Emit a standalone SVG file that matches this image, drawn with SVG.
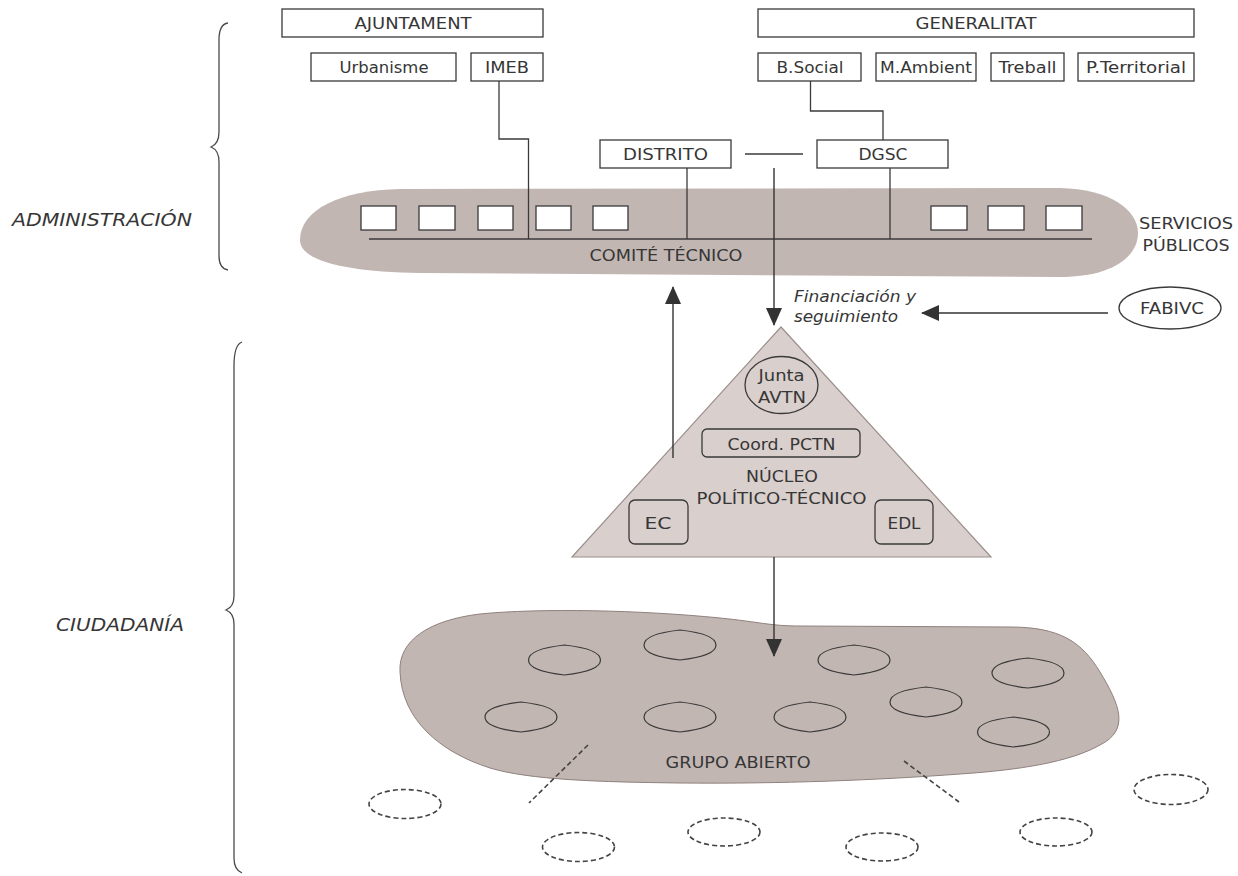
<svg xmlns="http://www.w3.org/2000/svg" width="1238" height="876" viewBox="0 0 1238 876">
  <style>
    .t { font-family: "DejaVu Sans", "Liberation Sans", sans-serif; font-size: 16px; fill: #363636; }
    .it { font-family: "DejaVu Sans", "Liberation Sans", sans-serif; font-style: italic; fill: #363636; }
    .box { fill: #ffffff; stroke: #3a3a3a; stroke-width: 1.3; }
    .ln { fill: none; stroke: #3a3a3a; stroke-width: 1.3; }
    .arr { fill: none; stroke: #333333; stroke-width: 1.4; }
    .inner { fill: #d9cfcc; stroke: #3a3a3a; stroke-width: 1.3; }
    .cell { fill: none; stroke: #3a3a3a; stroke-width: 1.2; }
    .dash { fill: none; stroke: #444444; stroke-width: 1.6; stroke-dasharray: 5 3; }
    .brace { fill: none; stroke: #4a4a4a; stroke-width: 1.3; }
  </style>
  <defs>
    <marker id="head" markerUnits="userSpaceOnUse" markerWidth="18" markerHeight="16" refX="17" refY="8" orient="auto">
      <path d="M0,0 L18,8 L0,16 Z" fill="#333333"/>
    </marker>
    <!-- small member group: slightly pointed oval -->
    <path id="cellShape" d="M-36,0 C-36,-9 -18,-13 0,-15 C18,-13 36,-9 36,0 C36,9 18,13 0,15 C-18,13 -36,9 -36,0 Z"/>
  </defs>

  <rect width="1238" height="876" fill="#ffffff"/>

  <!-- side braces and section labels -->
  <g id="section-administracion">
    <path class="brace" d="M228,23 C221,24 219,30 219,40 L219,132 C219,140 216,145 211,147 C216,149 219,154 219,162 L219,256 C219,265 222,269 228,270"/>
    <text class="it" x="12" y="226" font-size="18" textLength="180" lengthAdjust="spacingAndGlyphs">ADMINISTRACIÓN</text>
  </g>
  <g id="section-ciudadania">
    <path class="brace" d="M242,342 C236,344 234,352 234,366 L234,596 C234,603 231,608 226,610 C231,612 234,617 234,624 L234,858 C234,866 237,871 242,873"/>
    <text class="it" x="56" y="631" font-size="18" textLength="128" lengthAdjust="spacingAndGlyphs">CIUDADANÍA</text>
  </g>

  <!-- technical committee band -->
  <g id="comite-tecnico">
    <path d="M400,189 L1060,188 C1110,189 1138,210 1138,233 C1138,258 1110,277 1060,277 L420,273 C350,272 300,262 300,240 C300,210 340,190 400,189 Z" fill="#c2b6b3"/>
    <rect class="box" x="361" y="206" width="35" height="24"/>
    <rect class="box" x="419" y="206" width="36" height="24"/>
    <rect class="box" x="478" y="206" width="35" height="24"/>
    <rect class="box" x="536" y="206" width="35" height="24"/>
    <rect class="box" x="593" y="206" width="35" height="24"/>
    <rect class="box" x="931" y="206" width="36" height="24"/>
    <rect class="box" x="988" y="206" width="36" height="24"/>
    <rect class="box" x="1046" y="206" width="36" height="24"/>
    <line class="ln" x1="369" y1="239" x2="1092" y2="239"/>
    <text class="t" x="666" y="261" text-anchor="middle" textLength="153" lengthAdjust="spacingAndGlyphs">COMITÉ TÉCNICO</text>
  </g>
  <g id="servicios-publicos">
    <text class="t" x="1186" y="229" text-anchor="middle" textLength="94" lengthAdjust="spacingAndGlyphs">SERVICIOS</text>
    <text class="t" x="1186" y="251" text-anchor="middle" textLength="87" lengthAdjust="spacingAndGlyphs">PÚBLICOS</text>
  </g>

  <!-- municipal bodies -->
  <g id="ajuntament">
    <rect class="box" x="282" y="9" width="261" height="28"/>
    <text class="t" x="413" y="29" text-anchor="middle" textLength="117" lengthAdjust="spacingAndGlyphs">AJUNTAMENT</text>
  </g>
  <g id="urbanisme">
    <rect class="box" x="311" y="53" width="145" height="28"/>
    <text class="t" x="384" y="73" text-anchor="middle" textLength="89" lengthAdjust="spacingAndGlyphs">Urbanisme</text>
  </g>
  <g id="imeb">
    <rect class="box" x="471" y="53" width="72" height="28"/>
    <text class="t" x="507" y="73" text-anchor="middle" textLength="44" lengthAdjust="spacingAndGlyphs">IMEB</text>
  </g>

  <!-- regional bodies -->
  <g id="generalitat">
    <rect class="box" x="758" y="9" width="436" height="28"/>
    <text class="t" x="976" y="29" text-anchor="middle" textLength="121" lengthAdjust="spacingAndGlyphs">GENERALITAT</text>
  </g>
  <g id="b-social">
    <rect class="box" x="758" y="53" width="103" height="28"/>
    <text class="t" x="810" y="73" text-anchor="middle" textLength="67" lengthAdjust="spacingAndGlyphs">B.Social</text>
  </g>
  <g id="m-ambient">
    <rect class="box" x="876" y="53" width="100" height="28"/>
    <text class="t" x="926" y="73" text-anchor="middle" textLength="92" lengthAdjust="spacingAndGlyphs">M.Ambient</text>
  </g>
  <g id="treball">
    <rect class="box" x="991" y="53" width="73" height="28"/>
    <text class="t" x="1027.5" y="73" text-anchor="middle" textLength="58" lengthAdjust="spacingAndGlyphs">Treball</text>
  </g>
  <g id="p-territorial">
    <rect class="box" x="1078" y="53" width="116" height="28"/>
    <text class="t" x="1136" y="73" text-anchor="middle" textLength="100" lengthAdjust="spacingAndGlyphs">P.Territorial</text>
  </g>

  <g id="distrito">
    <rect class="box" x="600" y="140" width="131" height="28"/>
    <text class="t" x="665.5" y="160" text-anchor="middle" textLength="85" lengthAdjust="spacingAndGlyphs">DISTRITO</text>
  </g>
  <g id="dgsc">
    <rect class="box" x="817" y="140" width="131" height="28"/>
    <text class="t" x="883" y="160" text-anchor="middle" textLength="49" lengthAdjust="spacingAndGlyphs">DGSC</text>
  </g>

  <g id="fabivc">
    <ellipse cx="1170" cy="308" rx="51" ry="21" fill="#ffffff" stroke="#3a3a3a" stroke-width="1.3"/>
    <text class="t" x="1172" y="314" text-anchor="middle" textLength="64" lengthAdjust="spacingAndGlyphs">FABIVC</text>
  </g>

  <g id="financiacion-label">
    <text class="it" x="794" y="302" font-size="16" textLength="122" lengthAdjust="spacingAndGlyphs">Financiación y</text>
    <text class="it" x="794" y="322" font-size="16" textLength="104" lengthAdjust="spacingAndGlyphs">seguimiento</text>
  </g>

  <!-- political-technical core -->
  <g id="nucleo-politico-tecnico">
    <polygon points="781,327 572,557 991,557" fill="#d9cfcc" stroke="#9a8f8c" stroke-width="1.2"/>
    <ellipse cx="781.5" cy="385" rx="36.5" ry="28.5" class="inner"/>
    <text class="t" x="781.5" y="381" text-anchor="middle" textLength="46" lengthAdjust="spacingAndGlyphs">Junta</text>
    <text class="t" x="782" y="403" text-anchor="middle" textLength="48" lengthAdjust="spacingAndGlyphs">AVTN</text>
    <rect class="inner" x="702" y="429" width="158" height="28" rx="5"/>
    <text class="t" x="781.5" y="450" text-anchor="middle" textLength="108" lengthAdjust="spacingAndGlyphs">Coord. PCTN</text>
    <text class="t" x="782" y="482" text-anchor="middle" textLength="72" lengthAdjust="spacingAndGlyphs">NÚCLEO</text>
    <text class="t" x="781.5" y="504" text-anchor="middle" textLength="170" lengthAdjust="spacingAndGlyphs">POLÍTICO-TÉCNICO</text>
  </g>
  <g id="ec">
    <rect class="inner" x="629" y="500" width="59" height="44" rx="6"/>
    <text class="t" x="658" y="529" text-anchor="middle" textLength="27" lengthAdjust="spacingAndGlyphs">EC</text>
  </g>
  <g id="edl">
    <rect class="inner" x="875" y="500" width="58" height="44" rx="6"/>
    <text class="t" x="904" y="529" text-anchor="middle" textLength="33" lengthAdjust="spacingAndGlyphs">EDL</text>
  </g>

  <!-- open group -->
  <g id="grupo-abierto">
    <path d="M400,672 C398,640 430,620 480,614 C540,608 640,610 720,618 C760,622 770,626 800,626 L1010,627 C1060,627 1082,642 1100,672 C1120,705 1130,730 1100,745 C1070,762 1020,770 960,774 C880,780 780,784 680,783 C600,782 530,780 490,768 C440,752 402,720 400,672 Z" fill="#c2b6b3" stroke="#8f817d" stroke-width="1"/>
    <use href="#cellShape" class="cell" x="564.5" y="660"/>
    <use href="#cellShape" class="cell" x="680" y="645"/>
    <use href="#cellShape" class="cell" x="854" y="660"/>
    <use href="#cellShape" class="cell" x="1028" y="673"/>
    <use href="#cellShape" class="cell" x="926" y="702"/>
    <use href="#cellShape" class="cell" x="521" y="717"/>
    <use href="#cellShape" class="cell" x="680" y="717"/>
    <use href="#cellShape" class="cell" x="810" y="717"/>
    <use href="#cellShape" class="cell" x="1013.5" y="732"/>
    <text class="t" x="738" y="768" text-anchor="middle" textLength="145" lengthAdjust="spacingAndGlyphs">GRUPO ABIERTO</text>
  </g>

  <!-- surrounding citizens outside the group -->
  <g id="ciudadanos-externos">
    <ellipse class="dash" cx="405" cy="804" rx="36" ry="14.5"/>
    <ellipse class="dash" cx="578.5" cy="847" rx="36" ry="14.5"/>
    <ellipse class="dash" cx="724" cy="832" rx="36" ry="14"/>
    <ellipse class="dash" cx="882" cy="847" rx="36" ry="14"/>
    <ellipse class="dash" cx="1056" cy="832" rx="36" ry="14"/>
    <ellipse class="dash" cx="1171" cy="789.5" rx="37" ry="15"/>
  </g>

  <!-- connectors -->
  <g id="connectors">
    <polyline class="ln" points="499,81 499,139 528.5,139 528.5,239"/>
    <line class="ln" x1="687" y1="168" x2="687" y2="239"/>
    <polyline class="ln" points="810.5,81 810.5,111 883,111 883,140"/>
    <line class="ln" x1="890" y1="168" x2="890" y2="239"/>
    <line class="ln" x1="745" y1="154" x2="803" y2="154"/>
    <line class="arr" x1="774" y1="168" x2="774" y2="325" marker-end="url(#head)"/>
    <line class="arr" x1="673" y1="458" x2="673" y2="287" marker-end="url(#head)"/>
    <line class="arr" x1="1108" y1="313" x2="922" y2="313" marker-end="url(#head)"/>
    <line class="arr" x1="774" y1="557" x2="774" y2="656" marker-end="url(#head)"/>
    <line class="dash" x1="588" y1="745" x2="529" y2="803"/>
    <line class="dash" x1="904" y1="761" x2="959" y2="802"/>
  </g>
</svg>
